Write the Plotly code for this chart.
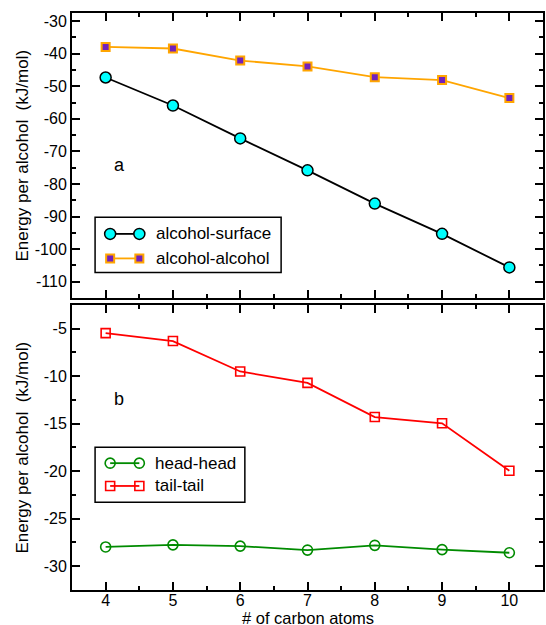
import plotly.graph_objects as go

# ---------------- data ----------------
carbons = [4, 5, 6, 7, 8, 9, 10]
alcohol_surface = [-47.3, -55.9, -66.0, -75.8, -86.0, -95.3, -105.6]
alcohol_alcohol = [-37.9, -38.4, -42.1, -43.9, -47.2, -48.1, -53.6]
head_head = [-27.97, -27.75, -27.88, -28.3, -27.8, -28.25, -28.58]
tail_tail = [-5.46, -6.3, -9.5, -10.7, -14.3, -14.95, -19.95]

x_ticks = [4, 5, 6, 7, 8, 9, 10]
x_ticklabels = ["4", "5", "6", "7", "8", "9", "10"]
y1_ticks = [-110, -100, -90, -80, -70, -60, -50, -40, -30]
y1_ticklabels = ["-110", "-100", "-90", "-80", "-70", "-60", "-50", "-40", "-30"]
y2_ticks = [-30, -25, -20, -15, -10, -5]
y2_ticklabels = ["-30", "-25", "-20", "-15", "-10", "-5"]

legend_top = ["alcohol-surface", "alcohol-alcohol"]
legend_bottom = ["head-head", "tail-tail"]

# ---------------- styles ----------------
FONT = "Liberation Sans, Arial, Helvetica, sans-serif"
CYAN = "#00FFFF"
ORANGE = "#FFA500"
INDIGO = "#7221BC"
GREEN = "#008B00"
RED = "#FF0000"

s_surface = dict(mode="lines+markers", line=dict(color="black", width=1.8),
                 marker=dict(symbol="circle", size=11, color=CYAN,
                             line=dict(color="black", width=1.5)))
s_alcohol = dict(mode="lines+markers", line=dict(color=ORANGE, width=1.8),
                 marker=dict(symbol="square", size=8, color=INDIGO,
                             line=dict(color=ORANGE, width=2)))
s_head = dict(mode="lines+markers", line=dict(color=GREEN, width=1.8),
              marker=dict(symbol="circle-open", size=10, color=GREEN,
                          line=dict(color=GREEN, width=1.6)))
s_tail = dict(mode="lines+markers", line=dict(color=RED, width=1.8),
              marker=dict(symbol="square-open", size=9, color=RED,
                          line=dict(color=RED, width=1.6)))

fig = go.Figure()
fig.add_trace(go.Scatter(x=carbons, y=alcohol_surface, xaxis="x", yaxis="y", **s_surface))
fig.add_trace(go.Scatter(x=carbons, y=alcohol_alcohol, xaxis="x", yaxis="y", **s_alcohol))
fig.add_trace(go.Scatter(x=carbons, y=head_head, xaxis="x2", yaxis="y2", **s_head))
fig.add_trace(go.Scatter(x=carbons, y=tail_tail, xaxis="x2", yaxis="y2", **s_tail))

# custom legend samples on overlay (0..1) axes
LX = [0.081, 0.143]
fig.add_trace(go.Scatter(x=LX, y=[0.225, 0.225], xaxis="x3", yaxis="y3", **s_surface))
fig.add_trace(go.Scatter(x=LX, y=[0.139, 0.139], xaxis="x3", yaxis="y3", **s_alcohol))
fig.add_trace(go.Scatter(x=LX, y=[0.445, 0.445], xaxis="x4", yaxis="y4", **s_head))
fig.add_trace(go.Scatter(x=LX, y=[0.365, 0.365], xaxis="x4", yaxis="y4", **s_tail))

axis_common = dict(showline=True, linecolor="black", linewidth=2, mirror="allticks",
                   ticks="inside", ticklen=8, tickwidth=1.5, tickcolor="black",
                   showgrid=False, zeroline=False,
                   tickfont=dict(family=FONT, size=16, color="black"))

xminor = dict(dtick=0.5, ticklen=4, tickwidth=1.5, tickcolor="black", ticks="inside")

fig.update_layout(
    width=546, height=625,
    margin=dict(l=72, r=1, t=13, b=35),
    paper_bgcolor="white", plot_bgcolor="white",
    showlegend=False,
    font=dict(family=FONT, size=16, color="black"),
    xaxis=dict(domain=[0, 1], anchor="y", range=[3.5, 10.5], tickvals=x_ticks,
               ticktext=x_ticklabels, showticklabels=False, minor=xminor, **axis_common),
    yaxis=dict(domain=[0.506, 1], anchor="x", range=[-115, -27.5], tickvals=y1_ticks,
               ticktext=y1_ticklabels,
               minor=dict(dtick=5, tick0=0, ticklen=4, tickwidth=1.5, tickcolor="black", ticks="inside"),
               **axis_common),
    xaxis2=dict(domain=[0, 1], anchor="y2", range=[3.5, 10.5], tickvals=x_ticks,
                ticktext=x_ticklabels, minor=xminor, ticklabelstandoff=-5, **axis_common),
    yaxis2=dict(domain=[0, 0.494], anchor="x2", range=[-32.5, -2.5], tickvals=y2_ticks,
                ticktext=y2_ticklabels,
                minor=dict(dtick=2.5, tick0=0, ticklen=4, tickwidth=1.5, tickcolor="black", ticks="inside"),
                **axis_common),
    xaxis3=dict(overlaying="x", anchor="y3", range=[0, 1], visible=False),
    yaxis3=dict(overlaying="y", anchor="x3", range=[0, 1], visible=False),
    xaxis4=dict(overlaying="x2", anchor="y4", range=[0, 1], visible=False),
    yaxis4=dict(overlaying="y2", anchor="x4", range=[0, 1], visible=False),
)

shapes = [
    dict(type="rect", xref="x domain", yref="y domain", x0=0.049, x1=0.444, y0=0.090, y1=0.283,
         line=dict(color="black", width=1.5), fillcolor="white", layer="below"),
    dict(type="rect", xref="x2 domain", yref="y2 domain", x0=0.049, x1=0.367, y0=0.308, y1=0.501,
         line=dict(color="black", width=1.5), fillcolor="white", layer="below"),
]
fig.update_layout(shapes=shapes)

tfont = dict(family=FONT, size=17, color="black")
ann = [
    dict(text=legend_top[0], xref="x domain", yref="y domain", x=0.174, y=0.225,
         xanchor="left", yanchor="middle", showarrow=False, font=tfont),
    dict(text=legend_top[1], xref="x domain", yref="y domain", x=0.174, y=0.139,
         xanchor="left", yanchor="middle", showarrow=False, font=tfont),
    dict(text=legend_bottom[0], xref="x2 domain", yref="y2 domain", x=0.172, y=0.445,
         xanchor="left", yanchor="middle", showarrow=False, font=tfont),
    dict(text=legend_bottom[1], xref="x2 domain", yref="y2 domain", x=0.172, y=0.365,
         xanchor="left", yanchor="middle", showarrow=False, font=tfont),
    dict(text="a", xref="x domain", yref="y domain", x=0.1, y=0.467,
         xanchor="center", yanchor="middle", showarrow=False, font=dict(family=FONT, size=18, color="black")),
    dict(text="b", xref="x2 domain", yref="y2 domain", x=0.1, y=0.669,
         xanchor="center", yanchor="middle", showarrow=False, font=dict(family=FONT, size=18, color="black")),
    dict(text="Energy per alcohol  (kJ/mol)", xref="paper", yref="y domain", x=-0.106, y=0.5,
         xanchor="center", yanchor="middle", textangle=-90, showarrow=False, font=tfont),
    dict(text="Energy per alcohol  (kJ/mol)", xref="paper", yref="y2 domain", x=-0.106, y=0.5,
         xanchor="center", yanchor="middle", textangle=-90, showarrow=False, font=tfont),
    dict(text="# of carbon atoms", xref="paper", yref="paper", x=0.5, y=-0.049,
         xanchor="center", yanchor="middle", showarrow=False,
         font=dict(family=FONT, size=16.5, color="black")),
]
fig.update_layout(annotations=ann)

fig.write_html("out.html")
